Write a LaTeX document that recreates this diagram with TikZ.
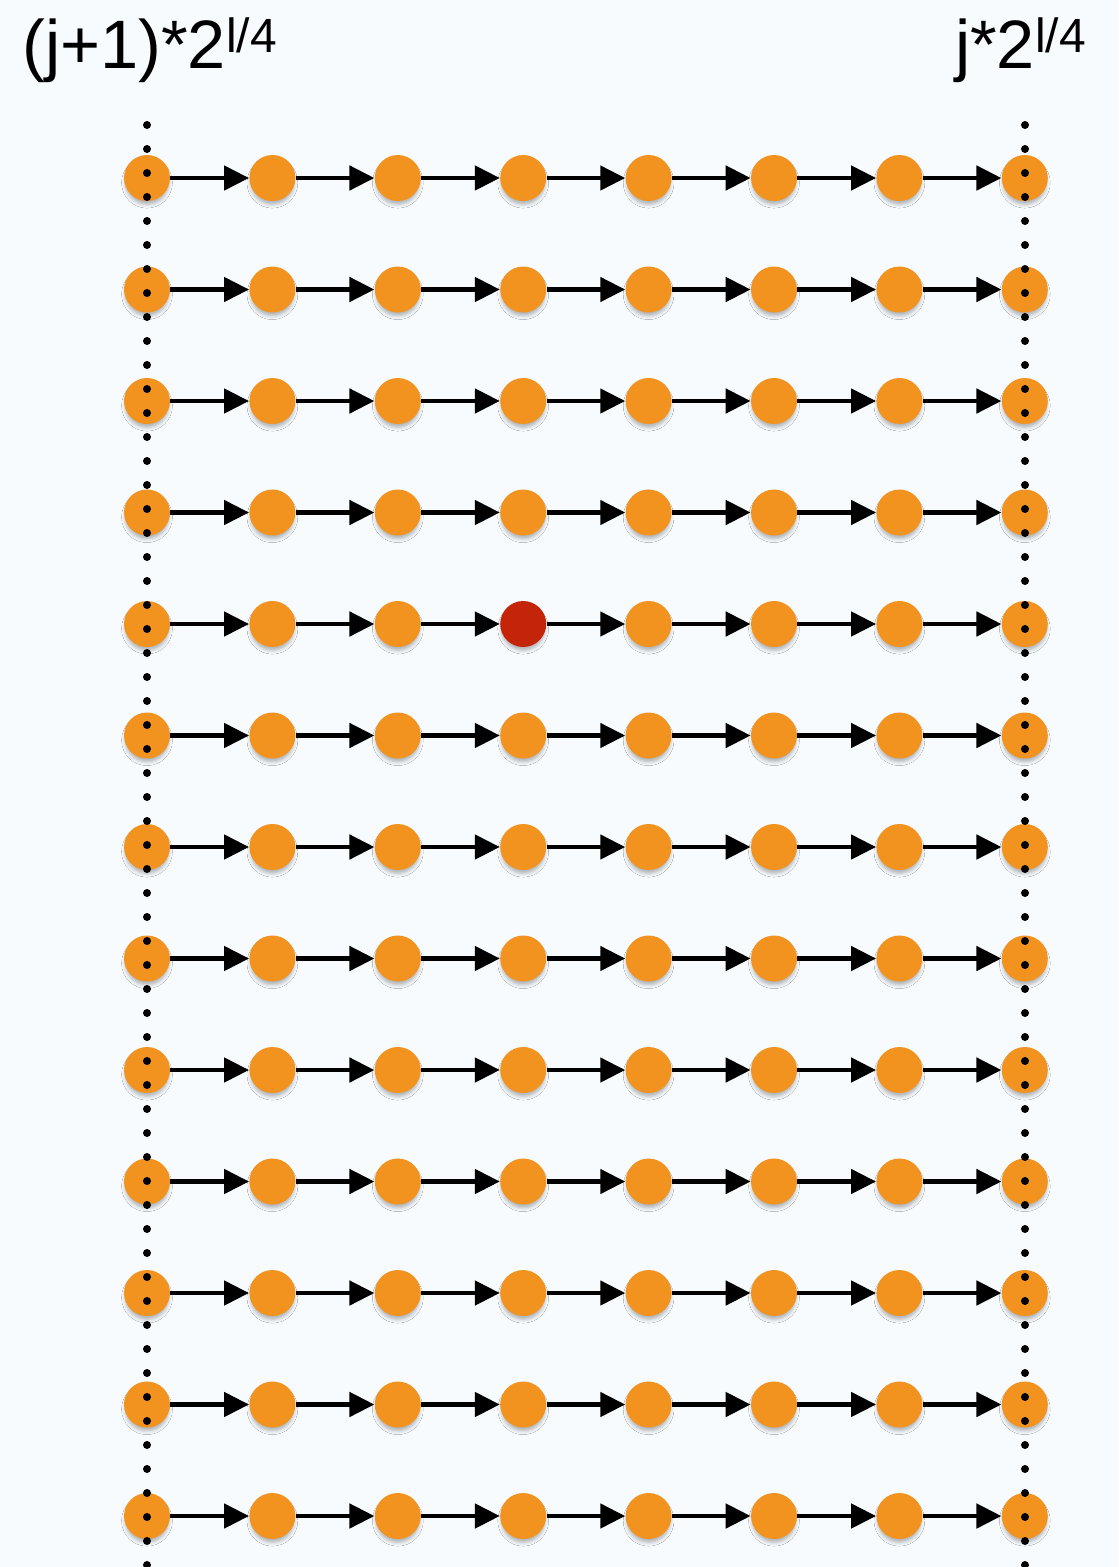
\documentclass[tikz,border=0pt]{standalone}
\usepackage{fontspec}
\setmainfont{Liberation Sans}
\usepackage{tikz}
\usetikzlibrary{positioning,arrows.meta,shadows.blur}
\definecolor{bgblue}{HTML}{F7FBFE}
\definecolor{dotorange}{HTML}{F2921F}
\definecolor{dotred}{HTML}{C42508}

\tikzset{
  ball/.style={circle,inner sep=0pt,minimum size=0.92cm,
    blur shadow={shadow xshift=0pt,shadow yshift=-0.1cm,shadow scale=0.94,shadow blur radius=0.08cm,shadow opacity=30}},
  link/.style={-{Triangle[length=0.5cm,width=0.48cm]},line width=0.095cm},
  dotline/.style={line width=0.16cm,line cap=round,dash pattern=on 0pt off 0.48cm}
}

\begin{document}
\begin{tikzpicture}[every node/.style={font=\fontsize{39}{44}\selectfont}]
  \fill[bgblue] (0,0) rectangle (22.36,-31.34);
  \useasboundingbox (0,0) rectangle (22.36,-31.34);
  \foreach \c in {0,...,7} \foreach \r in {0,...,12} {
    \ifnum\c=3 \ifnum\r=4 \def\col{dotred}\else\def\col{dotorange}\fi\else\def\col{dotorange}\fi
    \node[ball,fill=\col] (n\c-\r) at (2.94+\c*2.508,-3.56-\r*2.23) {};
  }
  % arrows along each row
  \foreach \c/\cn in {0/1,1/2,2/3,3/4,4/5,5/6,6/7} \foreach \r in {0,...,12} {
    \draw[link] (n\c-\r) -- (n\cn-\r);
  }
  % bounds
  \coordinate (lt) at (2.94,-2.5);
  \coordinate (lb) at (2.94,-31.6);
  \coordinate (rt) at (20.50,-2.5);
  \coordinate (rb) at (20.50,-31.6);
  \draw[dotline] (lt) -- (lb);
  \draw[dotline] (rt) -- (rb);
  \node[anchor=base west,inner sep=0pt] (lowlabel) at (0.44,-1.36) {(j+1)*2\textsuperscript{l/4}};
  \node[anchor=base east,inner sep=0pt] (highlabel) at (21.74,-1.36) {j*2\textsuperscript{l/4}};
\end{tikzpicture}
\end{document}
